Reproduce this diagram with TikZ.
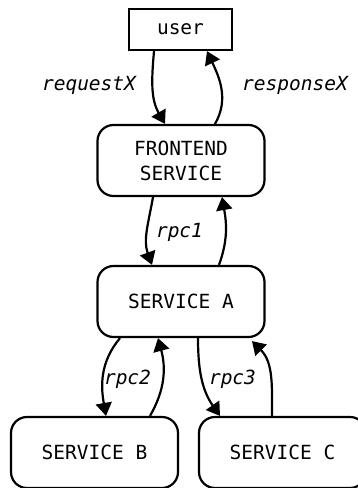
\documentclass[tikz,border=0pt]{standalone}
\usepackage{fontspec}
\setmonofont{DejaVu Sans Mono}
\usetikzlibrary{arrows.meta}
\pgfdeclarelayer{nodelayer}
\pgfdeclarelayer{edgelayer}
\pgfsetlayers{edgelayer,nodelayer,main}
\tikzstyle{user box}=[fill=white, draw=black, shape=rectangle, line width=2.2pt, minimum width=103pt, minimum height=41pt, inner sep=0pt, font=\ttfamily\fontsize{19.5}{25}\selectfont]
\tikzstyle{service box}=[user box, rounded corners=16pt, minimum width=167pt, minimum height=71pt, align=center]
\tikzstyle{call label}=[anchor=base, inner sep=0pt, font=\ttfamily\itshape\fontsize{19.5}{25}\selectfont]
\tikzstyle{call edge}=[draw=black, line width=2.2pt, -{Triangle[length=13pt, width=16pt]}]

\begin{document}
\begin{tikzpicture}[x=1pt, y=1pt]
	\useasboundingbox (0, 0) rectangle (358, -488);
	\begin{pgfonlayer}{nodelayer}
		\node [style=user box] (0) at (180.5, -29.5) {user};
		\node [style=service box] (1) at (181, -160.5) {FRONTEND\\SERVICE};
		\node [style=service box] (2) at (181, -301.5) {SERVICE A};
		\node [style=service box] (3) at (94.5, -452.5) {SERVICE B};
		\node [style=service box] (4) at (282.5, -452.5) {SERVICE C};
		\node [style=call label] (5) at (89, -90) {requestX};
		\node [style=call label] (6) at (295, -90) {responseX};
		\node [style=call label] (7) at (179.5, -237) {rpc1};
		\node [style=call label] (8) at (127.5, -384) {rpc2};
		\node [style=call label] (9) at (232.5, -384) {rpc3};
	\end{pgfonlayer}
	\begin{pgfonlayer}{edgelayer}
		% user <-> frontend
		\draw [style=call edge] ([xshift=-26.5pt]0.south) to [out=-95, in=120] ([xshift=-16pt]1.north);
		\draw [style=call edge] ([xshift=34pt]1.north) to [out=60, in=-65] ([xshift=26.5pt]0.south);
		% frontend <-> service a
		\draw [style=call edge] ([xshift=-28pt]1.south) to [out=-100, in=110] ([xshift=-29pt]2.north);
		\draw [style=call edge] ([xshift=38pt]2.north) to [out=70, in=-80] ([xshift=41pt]1.south);
		% service a <-> service b
		\draw [style=call edge] ([xshift=-61pt]2.south) to [out=-130, in=100] ([xshift=11.5pt]3.north);
		\draw [style=call edge] ([xshift=55.5pt]3.north) to [out=60, in=-75] ([xshift=-23pt]2.south);
		% service a <-> service c
		\draw [style=call edge] ([xshift=17pt]2.south) to [out=-90, in=125] ([xshift=-62.5pt]4.north);
		\draw [style=call edge] ([xshift=-10.5pt]4.north) to [out=90, in=-45] ([xshift=71pt, yshift=-3pt]2.south);
	\end{pgfonlayer}
\end{tikzpicture}
\end{document}
